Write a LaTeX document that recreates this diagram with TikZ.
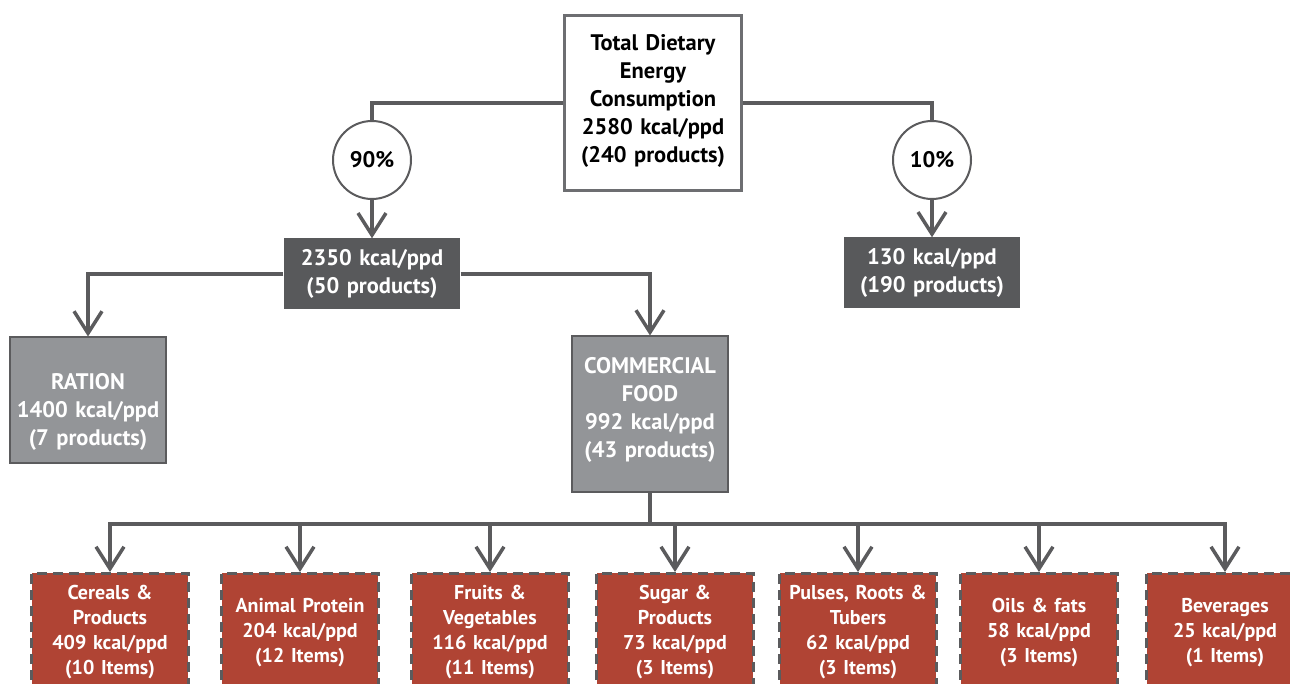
\documentclass[tikz,border=0pt]{standalone}
\usepackage{fontspec}
\setmainfont{PT Sans}[WordSpace=0.8]
\usepackage{tikz}
\usetikzlibrary{shapes.geometric, arrows.meta, calc, positioning}
\definecolor{linegray}{HTML}{5B5B5D}
\definecolor{framegray}{HTML}{6D6E71}
\definecolor{darkbox}{HTML}{58595B}
\definecolor{midbox}{HTML}{939598}
\definecolor{foodred}{HTML}{B04434}
\tikzstyle{total} = [rectangle, draw=framegray, line width=3pt, fill=white, minimum width=176pt, minimum height=175pt, text width=170pt, align=center, font=\fontsize{22.5}{28}\selectfont\bfseries]
\tikzstyle{share} = [circle, draw=linegray, line width=2pt, fill=white, minimum size=78pt, font=\fontsize{22.5}{28}\selectfont\bfseries]
\tikzstyle{sumbox} = [rectangle, fill=darkbox, text=white, minimum width=175pt, minimum height=71pt, text width=170pt, align=center, font=\fontsize{22.5}{28}\selectfont\bfseries]
\tikzstyle{group} = [rectangle, draw=linegray, line width=2pt, fill=midbox, text=white, minimum width=152pt, text width=150pt, align=center, font=\fontsize{22.5}{28}\selectfont\bfseries]
\tikzstyle{food} = [rectangle, draw=linegray, line width=2.5pt, dash pattern=on 10pt off 6pt, fill=foodred, text=white, minimum width=153pt, minimum height=118pt, text width=150pt, align=center, anchor=north, font=\fontsize{20}{25}\selectfont\bfseries]
\tikzstyle{line} = [draw=linegray, line width=3.5pt]
\tikzstyle{arrow} = [line, -{Straight Barb[length=22pt, width=28pt]}]

\begin{document}
\begin{tikzpicture}[x=1pt, y=-1pt]
		\useasboundingbox (0,0) rectangle (1290,684);
		\clip (0,0) rectangle (1290,684);
		\node (Total) [total] at (653,103) {Total Dietary\\Energy\\Consumption\\2580 kcal/ppd\\(240 products)\rule[-9pt]{0pt}{1pt}};
		\node (Share90) [share] at (372,160) {90\%};
		\node (Share10) [share] at (932,160) {10\%};
		\node (Main) [sumbox] at (372,274) {2350 kcal/ppd\\(50 products)};
		\node (Other) [sumbox] at (932,273) {130 kcal/ppd\\(190 products)};
		\node (Ration) [group, minimum height=125pt] at (88,400) {\rule{0pt}{40pt}RATION\\1400 kcal/ppd\\(7 products)};
		\node (Commercial) [group, minimum height=155pt] at (650,414) {COMMERCIAL\\FOOD\\992 kcal/ppd\\(43 products)\rule[-14pt]{0pt}{1pt}};
		\coordinate (Bus) at (650,524);
		\node (Cereals) [food] at (110,572) {Cereals \&\\Products\\409 kcal/ppd\\(10 Items)};
		\node (Animal) [food] at (300,572) {Animal Protein\\204 kcal/ppd\\(12 Items)};
		\node (Fruits) [food] at (490,572) {Fruits \&\\Vegetables\\116 kcal/ppd\\(11 Items)};
		\node (Sugar) [food] at (675,572) {Sugar \&\\Products\\73 kcal/ppd\\(3 Items)};
		\node (Pulses) [food] at (858,572) {Pulses, Roots \&\\Tubers\\62 kcal/ppd\\(3 Items)};
		\node (Oils) [food] at (1039,572) {Oils \& fats\\58 kcal/ppd\\(3 Items)};
		\node (Beverages) [food] at (1225,572) {Beverages\\25 kcal/ppd\\(1 Items)};
		\draw [line] (Total.west) -| (Share90.north);
		\draw [line] (Total.east) -| (Share10.north);
		\draw [arrow] (Share90) -- (Main);
		\draw [arrow] (Share10) -- (Other);
		\draw [arrow] (Main.west) -| (Ration.north);
		\draw [arrow] (Main.east) -| (Commercial.north);
		\draw [line] (Commercial.south) -- (Bus);
		\foreach \item in {Cereals, Animal, Fruits, Sugar, Pulses, Oils, Beverages}
			\draw [arrow] (Bus) -| (\item.north);
		\end{tikzpicture}
\end{document}
